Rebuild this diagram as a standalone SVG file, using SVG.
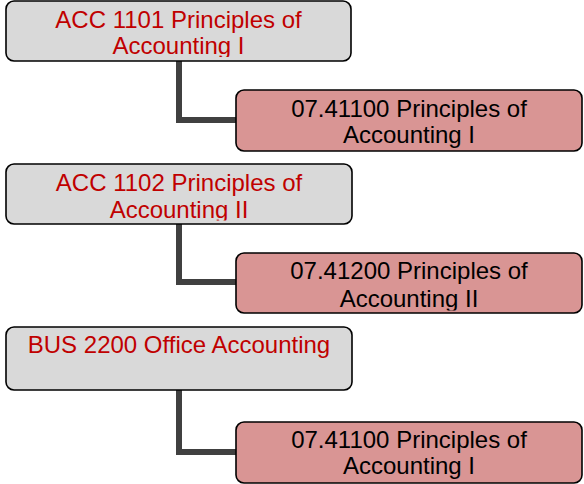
<svg xmlns="http://www.w3.org/2000/svg" width="584" height="484" viewBox="0 0 584 484">
<style>
.box{stroke:#000;stroke-width:1.6}
.src{fill:#d9d9d9}
.dst{fill:#d99594}
.t{font-family:"Liberation Sans",Arial,sans-serif;font-size:24px;text-anchor:middle}
.red{fill:#c00000}
.blk{fill:#000}
.conn{fill:none;stroke:#404040;stroke-width:6}
</style>
<defs>
<clipPath id="c1"><rect x="6" y="1" width="345" height="56"/></clipPath>
<clipPath id="c2"><rect x="236" y="90" width="346" height="58.5"/></clipPath>
<clipPath id="c3"><rect x="6" y="164" width="346" height="56.5"/></clipPath>
<clipPath id="c4"><rect x="236" y="253" width="346" height="57.5"/></clipPath>
<clipPath id="c5"><rect x="6" y="327" width="346" height="60"/></clipPath>
<clipPath id="c6"><rect x="236" y="422" width="346" height="58.5"/></clipPath>
</defs>
<g id="connectors">
<path class="conn" d="M179 61 V120 H236"/>
<path class="conn" d="M179 224 V282 H236"/>
<path class="conn" d="M179 390 V452 H236"/>
</g>
<g id="acc1101">
<rect class="box src" x="6" y="1" width="345" height="60" rx="8"/>
<g clip-path="url(#c1)">
<text class="t red" x="178.5" y="27.5">ACC 1101 Principles of</text>
<text class="t red" x="178.5" y="54.3">Accounting I</text>
</g>
</g>
<g id="p41100a">
<rect class="box dst" x="236" y="90" width="346" height="61" rx="8"/>
<g clip-path="url(#c2)">
<text class="t blk" x="409" y="116.7">07.41100 Principles of</text>
<text class="t blk" x="409" y="143.3">Accounting I</text>
</g>
</g>
<g id="acc1102">
<rect class="box src" x="6" y="164" width="346" height="60" rx="8"/>
<g clip-path="url(#c3)">
<text class="t red" x="179" y="190.7">ACC 1102 Principles of</text>
<text class="t red" x="179" y="218">Accounting II</text>
</g>
</g>
<g id="p41200">
<rect class="box dst" x="236" y="253" width="346" height="60" rx="8"/>
<g clip-path="url(#c4)">
<text class="t blk" x="409" y="279.3">07.41200 Principles of</text>
<text class="t blk" x="409" y="306.5">Accounting II</text>
</g>
</g>
<g id="bus2200">
<rect class="box src" x="6" y="327" width="346" height="63" rx="8"/>
<g clip-path="url(#c5)">
<text class="t red" x="179" y="353.3">BUS 2200 Office Accounting</text>
</g>
</g>
<g id="p41100b">
<rect class="box dst" x="236" y="422" width="346" height="61" rx="8"/>
<g clip-path="url(#c6)">
<text class="t blk" x="409" y="447.5">07.41100 Principles of</text>
<text class="t blk" x="409" y="474">Accounting I</text>
</g>
</g>
</svg>
